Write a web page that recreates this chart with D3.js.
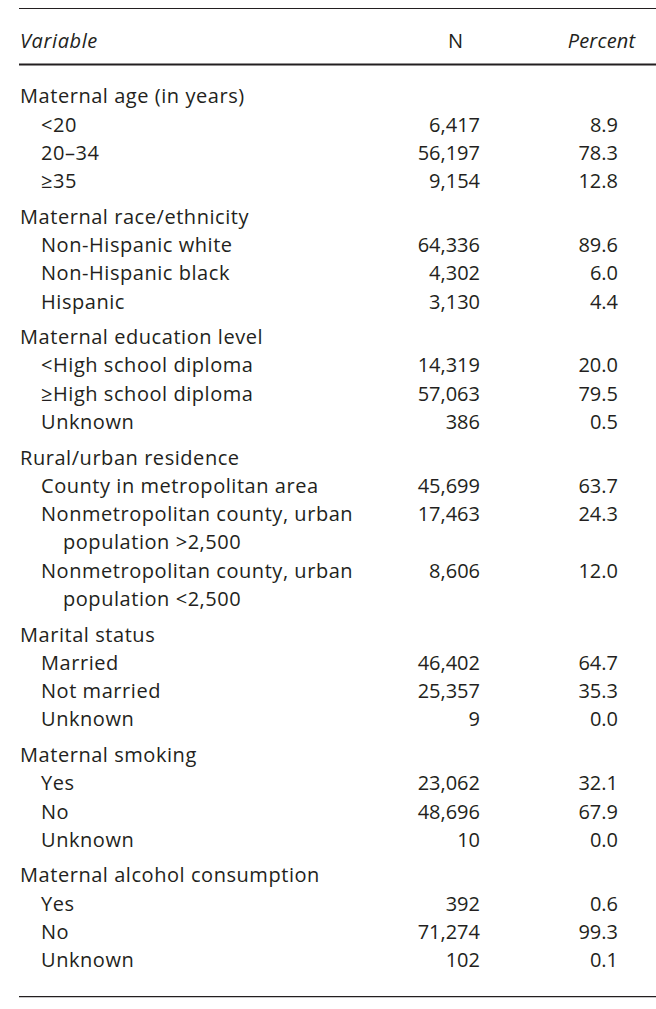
<!DOCTYPE html>
<html><head><meta charset="utf-8">
<script src="https://cdn.jsdelivr.net/npm/d3@7"></script>
<style>body{margin:0;background:#fff}svg{display:block}</style>
</head><body>
<script>
// ---- data ----
const headers = ["Variable", "N", "Percent"];
const groups = ["Maternal age (in years)", "Maternal race/ethnicity", "Maternal education level",
  "Rural/urban residence", "Marital status", "Maternal smoking", "Maternal alcohol consumption"];
const rowGroup = [0,0,0, 1,1,1, 2,2,2, 3,3,3, 4,4,4, 5,5,5, 6,6,6];
const rowLabels = ["<20", "20–34", "≥35",
  "Non-Hispanic white", "Non-Hispanic black", "Hispanic",
  "<High school diploma", "≥High school diploma", "Unknown",
  "County in metropolitan area", "Nonmetropolitan county, urban|population >2,500", "Nonmetropolitan county, urban|population <2,500",
  "Married", "Not married", "Unknown",
  "Yes", "No", "Unknown",
  "Yes", "No", "Unknown"];
const nValues = [6417, 56197, 9154, 64336, 4302, 3130, 14319, 57063, 386,
  45699, 17463, 8606, 46402, 25357, 9, 23062, 48696, 10, 392, 71274, 102];
const pctValues = [8.9, 78.3, 12.8, 89.6, 6.0, 4.4, 20.0, 79.5, 0.5,
  63.7, 24.3, 12.0, 64.7, 35.3, 0.0, 32.1, 67.9, 0.0, 0.6, 99.3, 0.1];

// ---- layout ----
const W = 656, H = 1009;
const svg = d3.select("body").append("svg").attr("width", W).attr("height", H)
  .style("font-family", "'Open Sans', sans-serif").style("font-size", "20px")
  .style("font-weight", 400);
const ink = "#231f20";

// build visual lines
const lines = [];
let li = 0;
groups.forEach((g, gi) => {
  lines.push({text: g, x: "g", line: li++, group: gi});
  rowLabels.forEach((lab, ri) => {
    if (rowGroup[ri] !== gi) return;
    const parts = lab.split("|");
    lines.push({text: parts[0], x: "r", line: li, group: gi, n: nValues[ri], p: pctValues[ri]});
    li++;
    for (let k = 1; k < parts.length; k++) {
      lines.push({text: parts[k], x: "c", line: li++, group: gi});
    }
  });
});

const yLine = d3.scaleLinear().domain([0, 1]).range([96, 96 + 28.3]);
const yGap = d3.scaleLinear().domain([0, 1]).range([0, 7.2]);
const yOf = d => yLine(d.line) + yGap(d.group) + 7.3;
const xIndent = d3.scaleOrdinal().domain(["g", "r", "c"]).range([20, 41, 63]);
const xN = 480, xP = 618;
const fmtN = d3.format(",");
const fmtP = d3.format(".1f");

// rules
svg.append("line").attr("x1", 19).attr("x2", W).attr("y1", 8.5).attr("y2", 8.5)
  .attr("stroke", ink).attr("stroke-width", 1.2);
svg.append("line").attr("x1", 19).attr("x2", W).attr("y1", 64.5).attr("y2", 64.5)
  .attr("stroke", ink).attr("stroke-width", 2.2);
svg.append("line").attr("x1", 19).attr("x2", W).attr("y1", 996.7).attr("y2", 996.7)
  .attr("stroke", ink).attr("stroke-width", 1.3);

// header
svg.append("text").attr("x", 20).attr("y", 47.5).attr("fill", ink).style("font-style", "italic")
  .style("letter-spacing", "0.6px").text(headers[0]);
svg.append("text").attr("x", 455.5).attr("y", 47.5).attr("fill", ink).attr("text-anchor", "middle").text(headers[1]);
svg.append("text").attr("x", 601.5).attr("y", 47.5).attr("fill", ink).attr("text-anchor", "middle").style("font-style", "italic")
  .style("letter-spacing", "0.2px").text(headers[2]);

// body
svg.selectAll("text.lab").data(lines).join("text").attr("class", "lab")
  .attr("x", d => xIndent(d.x)).attr("y", yOf).attr("fill", ink)
  .style("letter-spacing", "0.55px").text(d => d.text);
const vals = lines.filter(d => d.n !== undefined);
svg.selectAll("text.n").data(vals).join("text").attr("class", "n")
  .attr("x", xN).attr("y", yOf).attr("text-anchor", "end").attr("fill", ink).text(d => fmtN(d.n));
svg.selectAll("text.p").data(vals).join("text").attr("class", "p")
  .attr("x", xP).attr("y", yOf).attr("text-anchor", "end").attr("fill", ink).text(d => fmtP(d.p));
</script>
</body></html>
